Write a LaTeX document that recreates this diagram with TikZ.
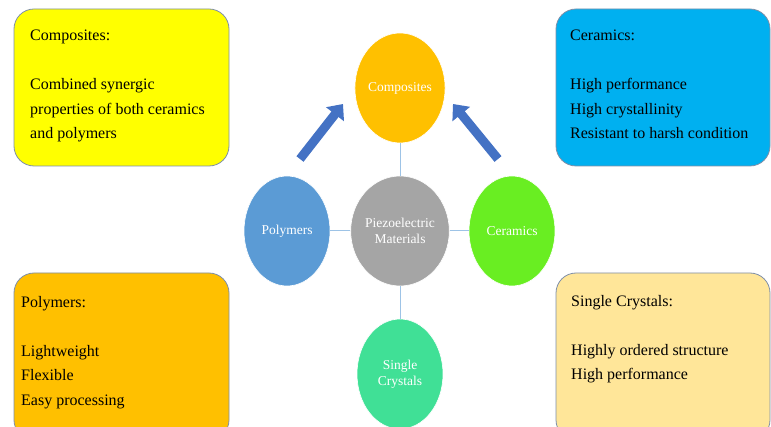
\documentclass[tikz,border=0pt]{standalone}
\usepackage{fontspec}
\setmainfont{Liberation Serif}
\usetikzlibrary{arrows.meta,shapes.geometric}
\definecolor{boxedge}{HTML}{7F8FA9}
\definecolor{yellowbox}{HTML}{FFFF00}
\definecolor{cyanbox}{HTML}{00B0F0}
\definecolor{orangebox}{HTML}{FFC000}
\definecolor{palebox}{HTML}{FFE699}
\definecolor{compc}{HTML}{FFC000}
\definecolor{polyc}{HTML}{5B9BD5}
\definecolor{piezoc}{HTML}{A5A5A5}
\definecolor{ceramc}{HTML}{69EE22}
\definecolor{singlec}{HTML}{40E096}
\definecolor{linkc}{HTML}{9DC3E6}
\definecolor{arrowc}{HTML}{4472C4}
\tikzset{
  infobox/.style={draw=boxedge, line width=0.8pt, rounded corners=20pt},
  infotext/.style={anchor=north west, inner sep=0pt, align=left, text=black,
    font=\fontsize{16}{24.5}\selectfont},
  bubble/.style={ellipse, draw=white, line width=0.6pt, minimum width=86pt,
    minimum height=110pt, inner sep=0pt, text=white, align=center,
    font=\fontsize{13.5}{16}\selectfont},
  link/.style={draw=linkc, line width=1pt},
  bigarrow/.style={draw=arrowc, line width=9pt,
    -{Triangle[width=22pt,length=13pt]}},
}
\begin{document}
\begin{tikzpicture}[x=1pt,y=-1pt]
\useasboundingbox[fill=white] (0,0) rectangle (771,427);
% info boxes
\path[infobox, fill=yellowbox] (14,9) rectangle (229,166);
\path[infobox, fill=cyanbox] (556,9) rectangle (770,166);
\path[infobox, fill=orangebox] (14,273) rectangle (229,440);
\path[infobox, fill=palebox] (556,273) rectangle (770,440);
\node[infotext] (tcomp) at (30,30) {Composites:\\~\\Combined synergic\\properties of both ceramics\\and polymers};
\node[infotext] (tceram) at (570,30) {Ceramics:\\~\\High performance\\High crystallinity\\Resistant to harsh condition};
\node[infotext] (tpoly) at (21,296) {Polymers:\\~\\Lightweight\\Flexible\\Easy processing};
\node[infotext] (tsingle) at (571,295) {Single Crystals:\\~\\Highly ordered structure\\High performance};
% bubbles
\node[bubble, fill=compc] (comp) at (400,88) {Composites};
\node[bubble, fill=polyc] (poly) at (287,231) {Polymers};
\node[bubble, fill=piezoc] (piezo) at (400,231) {Piezoelectric\\Materials};
\node[bubble, fill=ceramc] (ceram) at (512,231) {Ceramics};
\node[bubble, fill=singlec] (single) at (400,374) {Single\\Crystals};
% links
\draw[link] (piezo) -- (comp);
\draw[link] (piezo) -- (poly);
\draw[link] (piezo) -- (ceram);
\draw[link] (piezo) -- (single);
% arrows
\coordinate (la) at (300,159);
\coordinate (lb) at (343,104);
\coordinate (ra) at (498,159);
\coordinate (rb) at (453,104);
\draw[bigarrow] (la) -- (lb);
\draw[bigarrow] (ra) -- (rb);
\end{tikzpicture}
\end{document}
